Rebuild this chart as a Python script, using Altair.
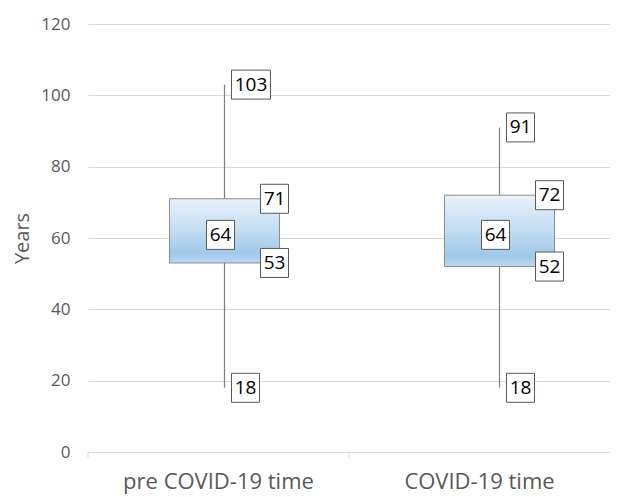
import altair as alt
import pandas as pd

categories = ["pre COVID-19 time", "COVID-19 time"]
minimum = [18, 18]
q1 = [53, 52]
median = [64, 64]
q3 = [71, 72]
maximum = [103, 91]
y_ticks = [0, 20, 40, 60, 80, 100, 120]

box_df = pd.DataFrame({"cat": categories, "low": minimum, "q1": q1,
                       "med": median, "q3": q3, "high": maximum})

rows = []
for i, c in enumerate(categories):
    for kind, v in [("high", maximum[i]), ("q3", q3[i]), ("med", median[i]),
                    ("q1", q1[i]), ("low", minimum[i])]:
        ypos = (q1[i] + q3[i]) / 2 if kind == "med" else v
        rows.append({"cat": c, "kind": kind, "value": v, "ypos": ypos, "label": str(v)})
lab_df = pd.DataFrame(rows)

FONT = "Open Sans"
GREY = "#595959"
shift = "(datum.cat == 'pre COVID-19 time' ? 6 : 20)"
w = "(length(datum.label) > 2 ? 39 : 28)"
lab_dx = (shift + " + (datum.kind == 'med' ? -4 : ((datum.kind == 'high' || datum.kind == 'low') ? 7 + "
          + w + "/2 : 36 + " + w + "/2))")
lab_dy = "datum.kind == 'med' ? 4 : 0"

xaxis = alt.Axis(labelAngle=0, labelFontSize=22, labelColor=GREY, labelFont=FONT,
                 domainColor="#d9d9d9", ticks=False, labelPadding=19, labelLimit=400,
                 labelBaseline="top", bandPosition=0.5)
xscale = alt.Scale(paddingInner=0, paddingOuter=0)
xcat = alt.X("cat:N", sort=categories, title=None, scale=xscale, axis=xaxis)
yval = alt.Scale(domain=[0, 120], nice=False)
yaxis = alt.Axis(values=y_ticks, title="Years", titleFontSize=20, titleFontWeight="normal",
                 titleColor=GREY, titleFont=FONT, labelFontSize=17, labelColor=GREY,
                 labelFont=FONT, domain=False, ticks=False, gridColor="#d9d9d9",
                 labelPadding=18, titlePadding=8)

base = alt.Chart(box_df)

whisker = base.mark_rule(color="#7f7f7f", strokeWidth=1.2,
                         xOffset={"expr": shift}).encode(
    x=xcat,
    y=alt.Y("low:Q", scale=yval, axis=yaxis),
    y2="high:Q")

ticks = base.mark_rule(color="#d9d9d9").encode(
    x=alt.X("cat:N", sort=categories, title=None, scale=xscale, axis=xaxis,
            bandPosition=0),
    y=alt.value(428), y2=alt.value(434))

grad = alt.Gradient(gradient="linear", x1=0, x2=0, y1=0, y2=1, stops=[
    alt.GradientStop(color="#e8f2fb", offset=0),
    alt.GradientStop(color="#c2dcf2", offset=0.5),
    alt.GradientStop(color="#9ec9ea", offset=0.85),
    alt.GradientStop(color="#bcd9f1", offset=1)])

box = base.mark_bar(size=110, fill=grad, stroke="#8c8c8c", strokeWidth=1,
                    xOffset={"expr": shift}, x2Offset={"expr": shift}).encode(
    x=xcat, y="q1:Q", y2="q3:Q")

lab = alt.Chart(lab_df)
shape_expr = ("length(datum.label) > 2 ? 'M-1.345,-1H1.345V1H-1.345Z' "
              ": 'M-0.966,-1H0.966V1H-0.966Z'")
frames = lab.mark_point(shape={"expr": shape_expr}, filled=True, fill="white",
                        stroke="#595959", strokeWidth=1, size=841, opacity=1,
                        xOffset={"expr": lab_dx}, yOffset={"expr": lab_dy}).encode(
    x=xcat, y=alt.Y("ypos:Q", scale=yval))
texts = lab.mark_text(font=FONT, fontSize=19, color="#000000", align="center",
                      baseline="middle",
                      xOffset={"expr": lab_dx}, yOffset={"expr": lab_dy}).encode(
    x=xcat, y=alt.Y("ypos:Q", scale=yval), text="label:N")

chart = alt.layer(whisker, ticks, box, frames, texts).properties(
    width=522, height=428,
    padding={"left": 4, "top": 7, "right": 0, "bottom": 10},
    background="white",
).configure_view(stroke=None)

chart.save("out.html", embed_options={"renderer": "svg", "actions": False})
